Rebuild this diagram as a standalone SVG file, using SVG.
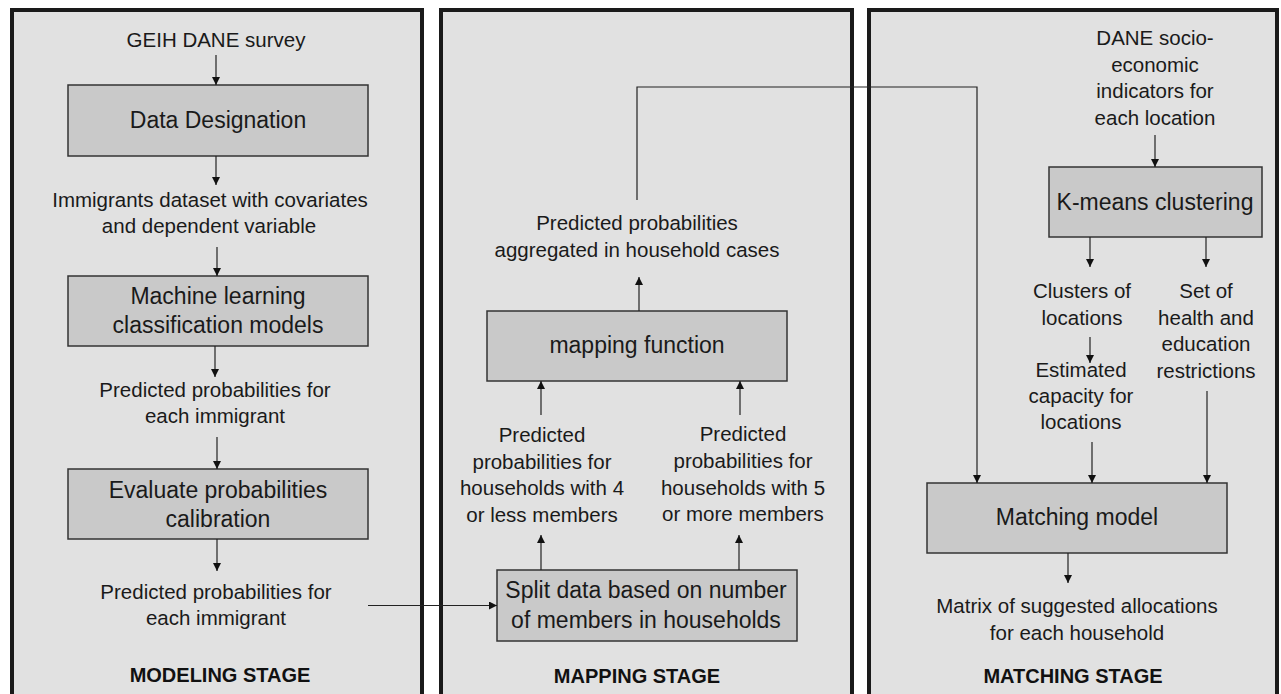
<svg xmlns="http://www.w3.org/2000/svg" width="1281" height="694" viewBox="0 0 1281 694">
<style>
.panel{fill:#e1e1e1;stroke:#1a1a1a;stroke-width:4}
.box{fill:#c9c9c9;stroke:#333;stroke-width:1.5}
.t{font-family:"Liberation Sans",Arial,sans-serif;font-size:20.5px;fill:#1a1a1a;text-anchor:middle}
.bt{font-family:"Liberation Sans",Arial,sans-serif;font-size:23px;fill:#1a1a1a;text-anchor:middle}
.st{font-family:"Liberation Sans",Arial,sans-serif;font-size:20px;font-weight:bold;fill:#111;text-anchor:middle}
.c{fill:none;stroke:#222;stroke-width:1.2}
</style>
<defs>
<marker id="ah" viewBox="0 0 8 8" refX="8" refY="4" markerWidth="8" markerHeight="8" markerUnits="userSpaceOnUse" orient="auto">
<path d="M0,0 L8,4 L0,8 z" fill="#111"/>
</marker>
</defs>
<rect width="1281" height="694" fill="#fff"/>
<g id="panel-modeling"><rect class="panel" x="12" y="10" width="410" height="695"/><text class="st" x="220" y="682">MODELING STAGE</text></g>
<g id="panel-mapping"><rect class="panel" x="441" y="10" width="411" height="695"/><text class="st" x="637" y="683">MAPPING STAGE</text></g>
<g id="panel-matching"><rect class="panel" x="869" y="10" width="408" height="695"/><text class="st" x="1073" y="683">MATCHING STAGE</text></g>

<g id="geih"><text class="t" x="216" y="47">GEIH DANE survey</text></g>
<g id="data-designation"><rect class="box" x="68" y="85" width="300" height="71"/><text class="bt" x="218" y="128">Data Designation</text></g>
<g id="immigrants-dataset"><text class="t" x="210" y="207">Immigrants dataset with covariates</text><text class="t" x="209" y="233">and dependent variable</text></g>
<g id="ml-models"><rect class="box" x="68" y="276" width="300" height="70"/><text class="bt" x="218" y="304">Machine learning</text><text class="bt" x="218" y="333">classification models</text></g>
<g id="pred-prob-1"><text class="t" x="215" y="397">Predicted probabilities for</text><text class="t" x="215" y="423">each immigrant</text></g>
<g id="evaluate-calibration"><rect class="box" x="68" y="469" width="300" height="70"/><text class="bt" x="218" y="498">Evaluate probabilities</text><text class="bt" x="218" y="527">calibration</text></g>
<g id="pred-prob-2"><text class="t" x="216" y="599">Predicted probabilities for</text><text class="t" x="216" y="625">each immigrant</text></g>

<g id="split-data"><rect class="box" x="497" y="570" width="300" height="71"/><text class="bt" x="646" y="598">Split data based on number</text><text class="bt" x="646" y="628">of members in households</text></g>
<g id="pred-4-less"><text class="t" x="542" y="442">Predicted</text><text class="t" x="542" y="469">probabilities for</text><text class="t" x="542" y="495">households with 4</text><text class="t" x="542" y="522">or less members</text></g>
<g id="pred-5-more"><text class="t" x="743" y="441">Predicted</text><text class="t" x="743" y="468">probabilities for</text><text class="t" x="743" y="495">households with 5</text><text class="t" x="743" y="521">or more members</text></g>
<g id="mapping-function"><rect class="box" x="487" y="311" width="300" height="70"/><text class="bt" x="637" y="353">mapping function</text></g>
<g id="aggregated"><text class="t" x="637" y="230">Predicted probabilities</text><text class="t" x="637" y="257">aggregated in household cases</text></g>

<g id="dane-indicators"><text class="t" x="1155" y="45">DANE socio-</text><text class="t" x="1155" y="72">economic</text><text class="t" x="1155" y="98">indicators for</text><text class="t" x="1155" y="125">each location</text></g>
<g id="kmeans"><rect class="box" x="1049" y="167" width="213" height="70"/><text class="bt" x="1155" y="210">K-means clustering</text></g>
<g id="clusters"><text class="t" x="1082" y="298">Clusters of</text><text class="t" x="1082" y="325">locations</text></g>
<g id="restrictions"><text class="t" x="1206" y="298">Set of</text><text class="t" x="1206" y="325">health and</text><text class="t" x="1206" y="351">education</text><text class="t" x="1206" y="378">restrictions</text></g>
<g id="capacity"><text class="t" x="1081" y="377">Estimated</text><text class="t" x="1081" y="403">capacity for</text><text class="t" x="1081" y="429">locations</text></g>
<g id="matching-model"><rect class="box" x="927" y="483" width="300" height="70"/><text class="bt" x="1077" y="525">Matching model</text></g>
<g id="matrix"><text class="t" x="1077" y="613">Matrix of suggested allocations</text><text class="t" x="1077" y="640">for each household</text></g>

<g id="connectors">
<line class="c" x1="216" y1="55" x2="216" y2="85" marker-end="url(#ah)"/>
<line class="c" x1="216" y1="156" x2="216" y2="185" marker-end="url(#ah)"/>
<line class="c" x1="217" y1="247" x2="217" y2="276" marker-end="url(#ah)"/>
<line class="c" x1="215" y1="346" x2="215" y2="377" marker-end="url(#ah)"/>
<line class="c" x1="217" y1="437" x2="217" y2="469" marker-end="url(#ah)"/>
<line class="c" x1="217" y1="539" x2="217" y2="571" marker-end="url(#ah)"/>
<line class="c" x1="368" y1="605.5" x2="497" y2="605.5" marker-end="url(#ah)"/>
<line class="c" x1="541" y1="570" x2="541" y2="535" marker-end="url(#ah)"/>
<line class="c" x1="739" y1="570" x2="739" y2="535" marker-end="url(#ah)"/>
<line class="c" x1="541" y1="415" x2="541" y2="381" marker-end="url(#ah)"/>
<line class="c" x1="740" y1="415" x2="740" y2="381" marker-end="url(#ah)"/>
<line class="c" x1="639" y1="311" x2="639" y2="277" marker-end="url(#ah)"/>
<polyline class="c" points="637,200 637,87 977,87 977,483" marker-end="url(#ah)"/>
<line class="c" x1="1155" y1="135" x2="1155" y2="167" marker-end="url(#ah)"/>
<line class="c" x1="1090" y1="237" x2="1090" y2="267" marker-end="url(#ah)"/>
<line class="c" x1="1206" y1="237" x2="1206" y2="267" marker-end="url(#ah)"/>
<line class="c" x1="1090" y1="337" x2="1090" y2="363" marker-end="url(#ah)"/>
<line class="c" x1="1092" y1="442" x2="1092" y2="483" marker-end="url(#ah)"/>
<line class="c" x1="1207" y1="391" x2="1207" y2="483" marker-end="url(#ah)"/>
<line class="c" x1="1068" y1="553" x2="1068" y2="583" marker-end="url(#ah)"/>
</g>
</svg>
